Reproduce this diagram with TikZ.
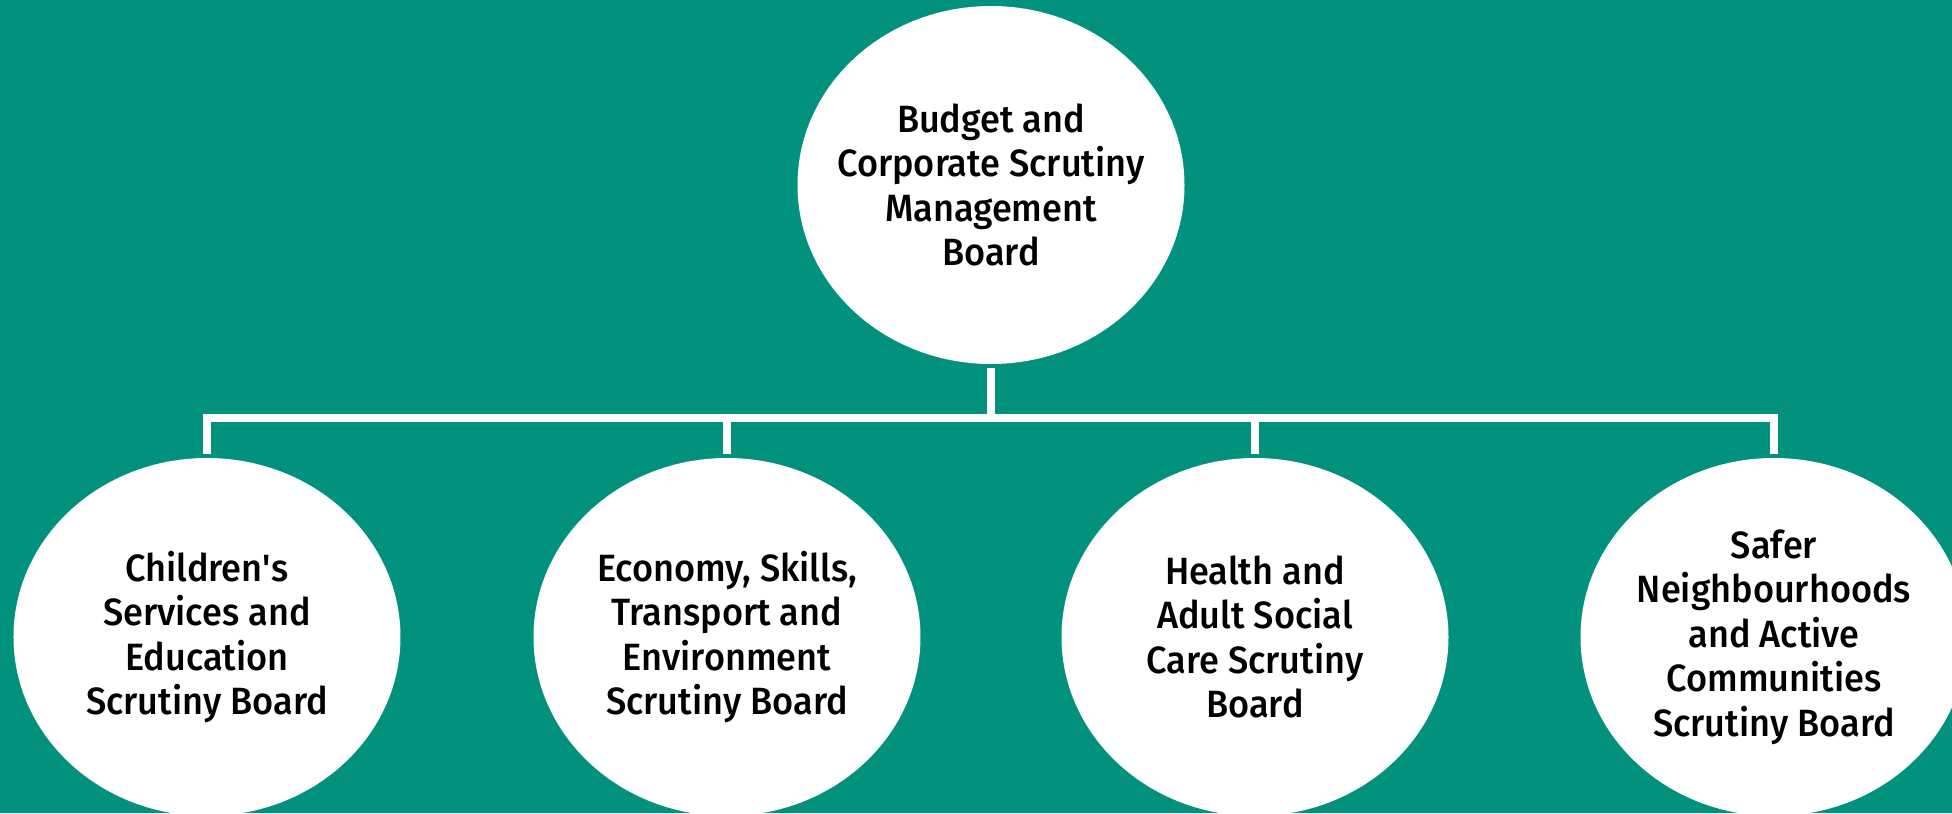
\documentclass[tikz,border=0pt]{standalone}
\usepackage{fontspec}
\setmainfont{Fira Sans}[FakeStretch=0.95,BoldFont={* Medium}]
\usetikzlibrary{shapes.geometric, positioning}

\definecolor{boardgreen}{RGB}{1,145,124}

\begin{document}
\begin{tikzpicture}[
            node distance = 226pt and 132pt, % centre to centre
            on grid,
            line width = 4pt % connector width
        ]

        \tikzstyle{board}=[
            ellipse,
            fill = white,
            minimum width = 193.5pt,
            minimum height = 179pt,
            inner xsep = -12pt, % keep wide text from growing the ellipse
            inner ysep = 0pt,
            align = center,
            font = \bfseries\fontsize{19}{22.25}\selectfont
        ]
        \tikzstyle{link}=[draw = white, line join = miter]

	\fill[boardgreen] (-495.5pt,-314pt) rectangle (480.5pt,92.5pt);
	\clip (-495.5pt,-314pt) rectangle (480.5pt,92.5pt);

	\node[board] (top) at (0,0) {Budget and\\Corporate Scrutiny\\Management\\Board};
	\node[board] (econ) [below left=of top] {Economy, Skills,\\Transport and\\Environment\\Scrutiny Board};
	\node[board] (health) [below right=of top] {Health and\\Adult Social\\Care Scrutiny\\Board};
	\node[board] (child) [left=260pt of econ] {Children\textquotesingle s\\Services and\\Education\\Scrutiny Board};
	\node[board] (safer) [right=259.5pt of health] {Safer\\Neighbourhoods\\and Active\\Communities\\Scrutiny Board};

	\coordinate (hub) at ([yshift=-116.5pt]top.center);

	\path[link] (top) edge (hub);
	\foreach \b in {child, econ, health, safer}
	    \draw[link] (hub) -| (\b);

\end{tikzpicture}
\end{document}
